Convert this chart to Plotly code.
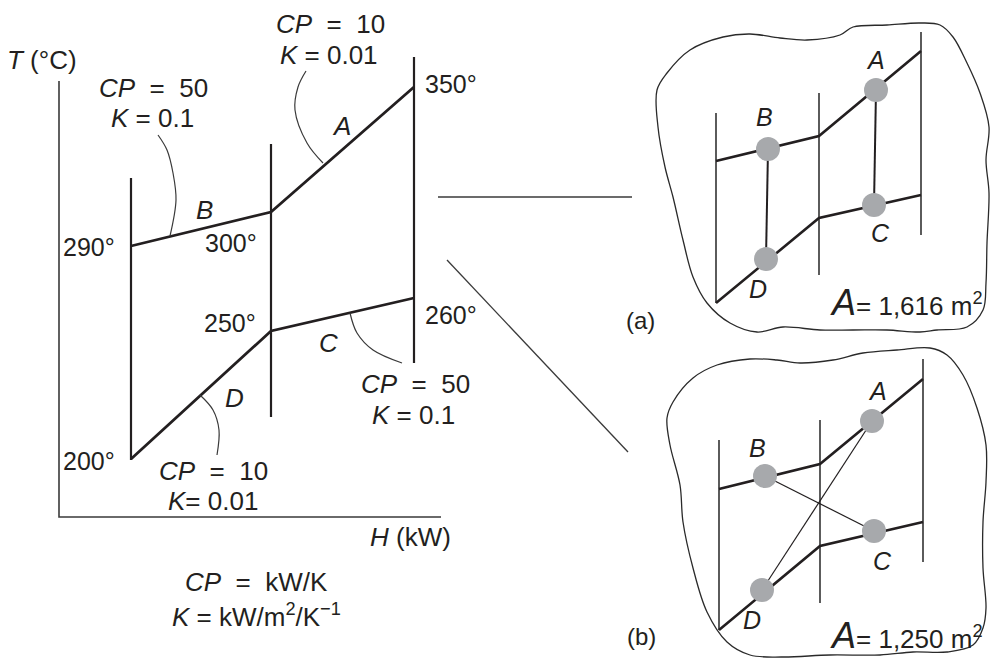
import plotly.graph_objects as go

INK = "#231f20"
DOT = "#a7a9ac"
FONT = "Liberation Sans, Arial, sans-serif"

# --- left composite T-H diagram (drawing coordinates) ---
AXIS_X = [59, 59, 441]
AXIS_Y = [81, 517, 517]
INTERVAL_X = [131, 271, 414]
INTERVAL_TOP = [178, 144, 57]
INTERVAL_BOT = [460, 417, 363]
HOT_Y = [246, 212, 87]      # B: 290 -> 300, A: 300 -> 350
COLD_Y = [459, 331, 298]    # D: 200 -> 250, C: 250 -> 260
HOT_T = ["290°", "300°", "350°"]
COLD_T = ["200°", "250°", "260°"]

# leader arcs from the stream lines to their CP / K labels
LEADER_B = ([170, 176, 173, 167, 158], [236, 200, 173, 150, 135])
LEADER_A = ([323, 307, 295, 298, 306], [163, 143, 110, 87, 71])
LEADER_C = ([350, 357, 373, 402], [313, 333, 350, 363])
LEADER_D = ([200, 213, 219, 217], [395, 410, 430, 455])

# connector lines to the two network sketches
LINK_H = ([438, 632], [197, 197])
LINK_D = ([447, 628], [260, 452])

# --- network (a): vertical matches, A = 1,616 m2 ---
NA_X = [716, 819, 921]
NA_TOP = [113, 93, 32]
NA_BOT = [303, 275, 235]
NA_HOT = [161, 136, 51]
NA_COLD = [303, 218, 195]
NA_DOTS = {"A": (876, 90), "B": (768, 149), "C": (874, 205), "D": (766, 259)}
NA_MATCH = [("B", "D"), ("A", "C")]
NA_AREA = "1,616"
BLOB_A_X = [657, 667, 690, 723, 750, 780, 807, 840, 853, 887, 920, 940, 953, 967,
            980, 989, 986, 989, 987, 986, 983, 967, 937, 920, 887, 853, 820,
            783, 757, 730, 707, 693, 683, 673, 665, 658, 657]
BLOB_A_Y = [90, 73, 50, 37, 34, 38, 40, 35, 27, 25, 23, 25, 37, 63,
            93, 127, 160, 193, 243, 283, 310, 327, 330, 332, 330, 330, 330,
            327, 332, 323, 303, 277, 240, 197, 167, 127, 90]

# --- network (b): crossed matches, A = 1,250 m2 ---
NB_X = [719, 820, 923]
NB_TOP = [440, 420, 359]
NB_BOT = [630, 603, 562]
NB_HOT = [489, 464, 379]
NB_COLD = [630, 546, 522]
NB_DOTS = {"A": (872, 421), "B": (765, 476), "C": (874, 531), "D": (762, 590)}
NB_MATCH = [("B", "C"), ("D", "A")]
NB_AREA = "1,250"
BLOB_B_X = [667, 673, 693, 717, 750, 777, 800, 833, 863, 897, 930, 947, 963,
            977, 986, 986, 983, 983, 986, 983, 973, 947, 913, 880, 830,
            783, 750, 727, 707, 693, 683, 680, 670, 667]
BLOB_B_Y = [418, 402, 378, 365, 359, 360, 363, 360, 353, 350, 348, 355, 375,
            408, 445, 482, 522, 568, 608, 628, 645, 652, 652, 655, 655,
            657, 655, 642, 612, 568, 522, 485, 445, 418]

fig = go.Figure()


def line(xs, ys, width=2.2, color=INK, shape="linear"):
    fig.add_trace(go.Scatter(x=xs, y=ys, mode="lines", hoverinfo="skip",
                             line=dict(color=color, width=width, shape=shape)))


def text(x, y, s, size=25, anchor="center"):
    fig.add_annotation(x=x, y=y, text=s, showarrow=False, xanchor=anchor,
                       yanchor="middle", font=dict(size=size, color=INK, family=FONT))


# left diagram
line(AXIS_X, AXIS_Y, width=1.6, color="#3a3a3a")
for x, t, b in zip(INTERVAL_X, INTERVAL_TOP, INTERVAL_BOT):
    line([x, x], [t, b], width=2.2)
line(INTERVAL_X, HOT_Y, width=2.8)
line(INTERVAL_X, COLD_Y, width=2.8)
for xs, ys in (LEADER_B, LEADER_A, LEADER_C, LEADER_D):
    line(xs, ys, width=1.2, color="#3a3a3a", shape="spline")
line(*LINK_H, width=1.3, color="#3a3a3a")
line(*LINK_D, width=1.3, color="#3a3a3a")

text(42, 60, "<i>T</i> (°C)", size=26)
text(117, 247, HOT_T[0], anchor="right")
text(231, 243, HOT_T[1])
text(423, 84, HOT_T[2], anchor="left")
text(117, 461, COLD_T[0], anchor="right")
text(230, 323, COLD_T[1])
text(423, 315, COLD_T[2], anchor="left")
text(204, 210, "<i>B</i>", size=26)
text(341, 126, "<i>A</i>", size=26)
text(328, 343, "<i>C</i>", size=26)
text(234, 398, "<i>D</i>", size=26)
text(153, 88, "<i>CP</i>  =  50", size=26)
text(152, 118, "<i>K</i> = 0.1", size=26)
text(330, 24, "<i>CP</i>  =  10", size=26)
text(329, 55, "<i>K</i> = 0.01", size=26)
text(415, 384, "<i>CP</i>  =  50", size=26)
text(413, 415, "<i>K</i> = 0.1", size=26)
text(213, 471, "<i>CP</i>  =  10", size=26)
text(213, 501, "<i>K</i>= 0.01", size=26)
text(410, 537, "<i>H</i> (kW)", size=26)
text(256, 582, "<i>CP</i>  =  kW/K", size=26)
text(256, 615, "<i>K</i> = kW/m<sup>2</sup>/K<sup>−1</sup>", size=26)


def network(bx, by, xs, tops, bots, hot, cold, dots, matches, area, tag, lab_off, area_y, tag_xy):
    line(bx, by, width=1.3, color="#2a2a2a", shape="spline")
    for x, t, b in zip(xs, tops, bots):
        line([x, x], [t, b], width=1.6, color="#333333")
    line(xs, hot, width=2.6)
    line(xs, cold, width=2.6)
    vertical = matches[0][0] == "B" and matches[0][1] == "D"
    for p, q in matches:
        line([dots[p][0], dots[q][0]], [dots[p][1], dots[q][1]],
             width=2.0 if vertical else 1.2)
    fig.add_trace(go.Scatter(x=[v[0] for v in dots.values()], y=[v[1] for v in dots.values()],
                             mode="markers", hoverinfo="skip",
                             marker=dict(size=24, color=DOT, line=dict(width=0))))
    for k, (dx, dy) in lab_off.items():
        text(dx, dy, "<i>%s</i>" % k, size=25)
    text(985, area_y, "<i><span style='font-size:36px'>A</span></i>= %s m<sup>2</sup>" % area,
         size=26, anchor="right")
    text(tag_xy[0], tag_xy[1], "(%s)" % tag, size=24)


network(BLOB_A_X, BLOB_A_Y, NA_X, NA_TOP, NA_BOT, NA_HOT, NA_COLD, NA_DOTS, NA_MATCH,
        NA_AREA, "a", {"A": (875, 60), "B": (764, 117), "C": (880, 233), "D": (758, 289)},
        302, (640, 320))
network(BLOB_B_X, BLOB_B_Y, NB_X, NB_TOP, NB_BOT, NB_HOT, NB_COLD, NB_DOTS, NB_MATCH,
        NB_AREA, "b", {"A": (877, 391), "B": (757, 448), "C": (882, 561), "D": (752, 620)},
        635, (641, 636))

fig.update_layout(
    width=990, height=658,
    margin=dict(l=0, r=0, t=0, b=0),
    paper_bgcolor="white", plot_bgcolor="white",
    showlegend=False,
    xaxis=dict(range=[0, 990], visible=False, fixedrange=True),
    yaxis=dict(range=[658, 0], visible=False, fixedrange=True),
)

fig.write_html("out.html", config={"displayModeBar": False},
               post_script="document.body.style.margin='0';")
